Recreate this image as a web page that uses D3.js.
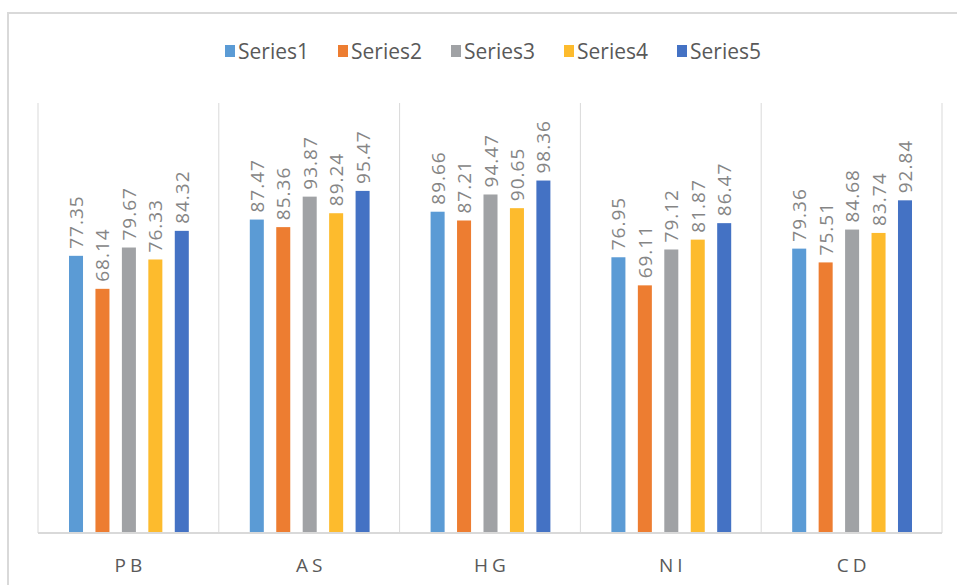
<!DOCTYPE html>
<html>

<head>
    <meta charset="utf-8">
    <script src="https://d3js.org/d3.v7.min.js"></script>
    <style>
        body {
            margin: 0;
            background: #fff;
            font-family: 'Open Sans', sans-serif;
        }
    </style>
</head>

<body>
    <svg id="chart" width="957" height="585"></svg>

    <script>
        // chart values
        var categories = ["PB", "AS", "HG", "NI", "CD"];
        var seriesNames = ["Series1", "Series2", "Series3", "Series4", "Series5"];
        var series1 = [77.35, 87.47, 89.66, 76.95, 79.36];
        var series2 = [68.14, 85.36, 87.21, 69.11, 75.51];
        var series3 = [79.67, 93.87, 94.47, 79.12, 84.68];
        var series4 = [76.33, 89.24, 90.65, 81.87, 83.74];
        var series5 = [84.32, 95.47, 98.36, 86.47, 92.84];
        var allSeries = [series1, series2, series3, series4, series5];

        var color = d3.scaleOrdinal()
            .domain(seriesNames)
            .range(["#5B9BD5", "#ED7D31", "#A0A2A5", "#FDBB2D", "#4472C4"]);

        var svg = d3.select("#chart");

        // outer frame of the chart
        svg.append("rect")
            .attr("x", 8)
            .attr("y", 13)
            .attr("width", 1000)
            .attr("height", 620)
            .attr("fill", "none")
            .attr("stroke", "#d9d9d9")
            .attr("stroke-width", 2);

        var plotLeft = 38, plotRight = 942, plotTop = 103, plotBottom = 533;

        var x0 = d3.scaleBand()
            .domain(categories)
            .range([plotLeft, plotRight])
            .padding(0);

        var gw = x0.bandwidth();
        var x1 = d3.scaleBand()
            .domain(seriesNames)
            .range([31, gw - 30])
            .paddingInner(0.47)
            .paddingOuter(0);

        var y = d3.scaleLinear()
            .domain([0, 120])
            .range([plotBottom, plotTop]);

        // group separators
        var bounds = categories.map(c => x0(c)).concat([plotRight]);
        svg.selectAll(".sep")
            .data(bounds)
            .enter()
            .append("line")
            .attr("x1", d => d)
            .attr("x2", d => d)
            .attr("y1", plotTop)
            .attr("y2", plotBottom)
            .attr("stroke", "#d9d9d9")
            .attr("stroke-width", 1);

        // bars
        var groups = svg.selectAll(".grp")
            .data(categories)
            .enter()
            .append("g")
            .attr("transform", d => "translate(" + x0(d) + ",0)");

        groups.each(function (cat, ci) {
            var g = d3.select(this);
            var rows = seriesNames.map((s, si) => ({ s: s, v: allSeries[si][ci] }));

            g.selectAll("rect")
                .data(rows)
                .enter()
                .append("rect")
                .attr("x", d => x1(d.s))
                .attr("y", d => y(d.v))
                .attr("width", x1.bandwidth())
                .attr("height", d => y(0) - y(d.v))
                .attr("fill", d => color(d.s));

            g.selectAll("text")
                .data(rows)
                .enter()
                .append("text")
                .attr("transform", d => "translate(" + (x1(d.s) + x1.bandwidth() / 2 + 7) + "," + (y(d.v) - 7) + ") rotate(-90)")
                .attr("font-size", 19)
                .attr("letter-spacing", 1)
                .attr("fill", "#858585")
                .text(d => d.v.toFixed(2));
        });

        // baseline
        svg.append("line")
            .attr("x1", plotLeft)
            .attr("x2", plotRight)
            .attr("y1", plotBottom)
            .attr("y2", plotBottom)
            .attr("stroke", "#d9d9d9")
            .attr("stroke-width", 2);

        // category labels
        svg.selectAll(".cat")
            .data(categories)
            .enter()
            .append("text")
            .attr("x", d => x0(d) + gw / 2 + 2)
            .attr("y", 572)
            .attr("text-anchor", "middle")
            .attr("font-size", 19)
            .attr("letter-spacing", 4)
            .attr("fill", "#595959")
            .text(d => d);

        // legend
        var legend = svg.selectAll(".leg")
            .data(seriesNames)
            .enter()
            .append("g")
            .attr("transform", (d, i) => "translate(" + (225 + i * 113) + ",45)");

        legend.append("rect")
            .attr("width", 10)
            .attr("height", 12)
            .attr("fill", d => color(d));

        legend.append("text")
            .attr("x", 13)
            .attr("y", 14)
            .attr("font-size", 21)
            .attr("fill", "#595959")
            .text(d => d);
    </script>
</body>

</html>
